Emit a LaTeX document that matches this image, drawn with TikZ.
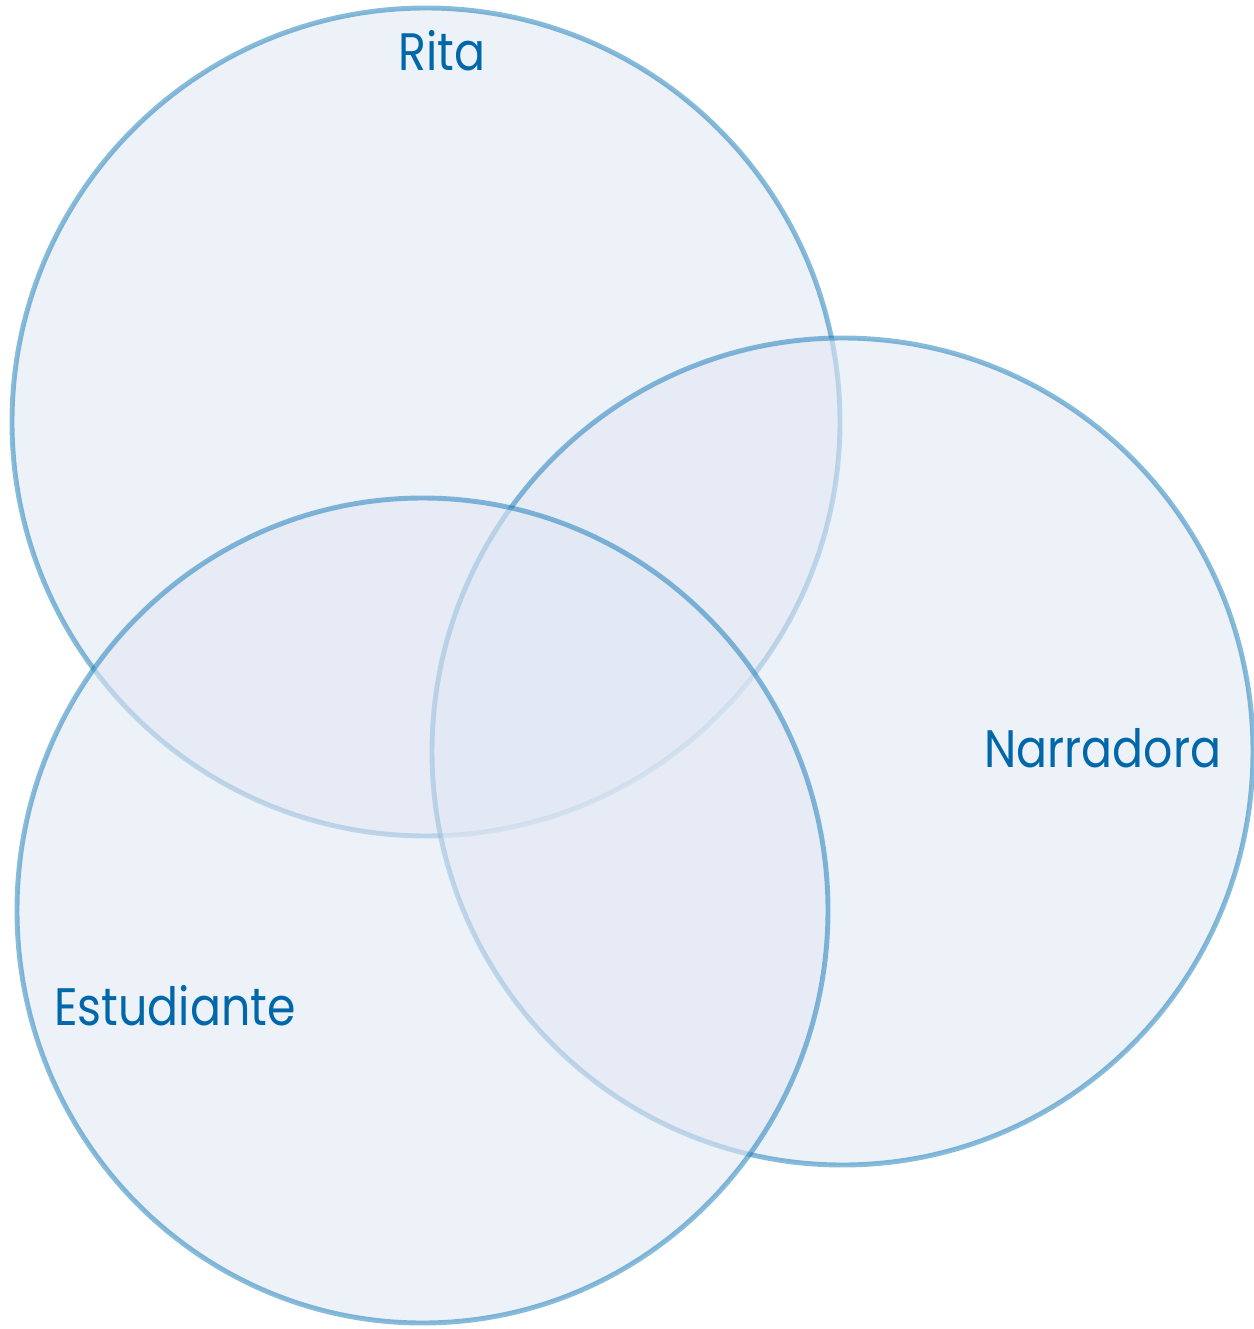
\documentclass[tikz,border=0pt]{standalone}
\usepackage{fontspec}
\newfontfamily\setnamefont[FakeStretch=0.87]{Poppins}
\usepackage{tikz}
\usetikzlibrary{calc,backgrounds}
\definecolor{settext}{RGB}{0,104,170}
\definecolor{setline}{RGB}{0,111,177}
\definecolor{setfill}{RGB}{225,231,243}
\tikzset{
  setcirc/.style={draw=setline,draw opacity=0.47,line width=2.8pt,fill=setfill,fill opacity=0.6},
  setname/.style={text=settext,font=\setnamefont\fontsize{30}{36}\selectfont,inner sep=0pt,anchor=base}
}
\begin{document}
\begin{tikzpicture}
  \useasboundingbox (0,0) rectangle (25.08,-26.58) ;
  \draw[setcirc] (8.52,-8.44) ellipse (8.28 and 8.28) ;
  \draw[setcirc] (16.85,-15.03) ellipse (8.21 and 8.27) ;
  \draw[setcirc] (8.45,-18.21) ellipse (8.11 and 8.25) ;

  \node[setname] (rita) at (8.84,-1.4) {Rita} ;
  \node[setname,anchor=base west] (narr) at (19.68,-15.34) {Narradora} ;
  \node[setname,anchor=base west] (estu) at (1.08,-20.5) {Estudiante} ;

\end{tikzpicture}
\end{document}
